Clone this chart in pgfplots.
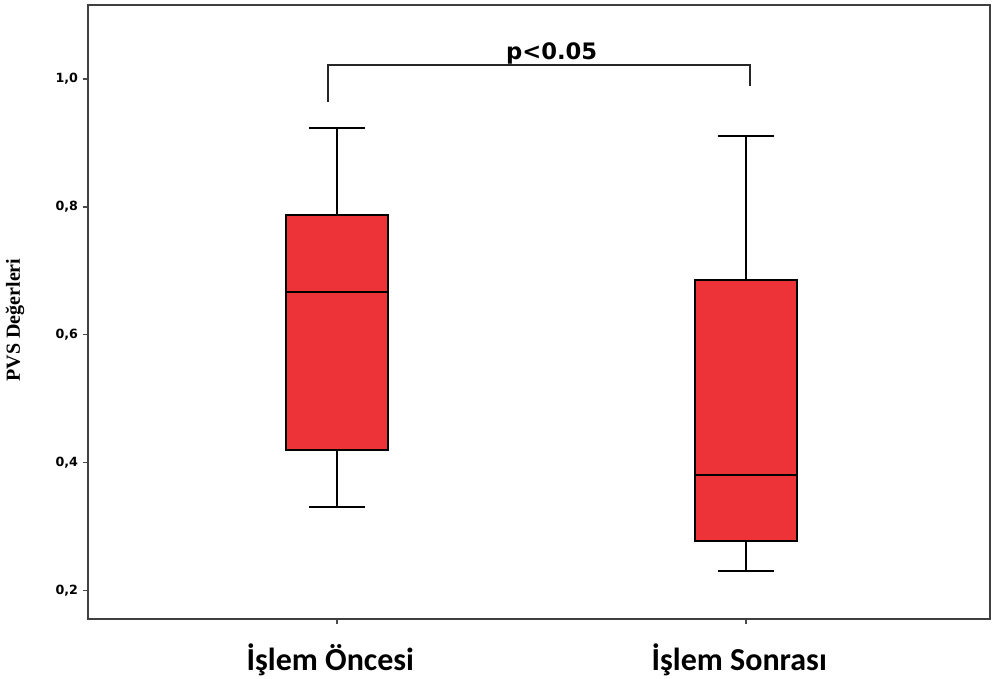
\documentclass[border=0pt]{standalone}
\usepackage{pgfplots}
\pgfplotsset{compat=1.18}
\usepgfplotslibrary{statistics}
\usepackage{fontspec}
\setmainfont{Liberation Serif}
\newfontfamily\calfont{Carlito}
\newfontfamily\verdfont{DejaVu Sans}
\definecolor{boxred}{HTML}{EE3338}
\begin{document}
\begin{tikzpicture}
\begin{axis}[
  name=ax,
  scale only axis,
  width=676.5pt, height=460.5pt,
  xmin=0.391, xmax=2.597,
  ymin=0.155, ymax=1.116,
  axis line style={line width=1.4pt, black!75},
  /pgf/number format/assume math mode=true,
  xtick={1,2},
  xticklabels={İşlem Öncesi, İşlem Sonrası},
  xtick pos=bottom, ytick pos=left,
  tick align=outside,
  major tick length=4pt,
  tick style={line width=1pt, black!70},
  x tick label style={font=\calfont\bfseries\fontsize{24}{27}\selectfont, yshift=-11pt, xshift=-5pt},
  ytick={0.2,0.4,0.6,0.8,1.0},
  y tick label style={font=\verdfont\bfseries\fontsize{9.5}{11}\selectfont},
  yticklabel={\pgfmathprintnumber[fixed, fixed zerofill, precision=1, use comma]{\tick}},
  ylabel={\bfseries PVS Değerleri},
  ylabel style={font=\fontsize{15}{17}\selectfont, at={(axis description cs:-0.081,0.487)}, anchor=center},
  boxplot/draw direction=y,
  boxplot/box extend=0.25,
  boxplot/whisker extend=0.135,
]
\addplot+[boxplot prepared={
    median=0.667, upper quartile=0.7875, lower quartile=0.42,
    upper whisker=0.923, lower whisker=0.33, draw position=1},
  draw=black, line width=1.4pt, fill=boxred, mark=none, solid]
  coordinates {};
\addplot+[boxplot prepared={
    median=0.381, upper quartile=0.686, lower quartile=0.277,
    upper whisker=0.911, lower whisker=0.23, draw position=2},
  draw=black, line width=1.4pt, fill=boxred, mark=none, solid]
  coordinates {};
\draw[line width=1pt, black!85] (axis cs:0.978,0.964) -- (axis cs:0.978,1.022) -- (axis cs:2.01,1.022) -- (axis cs:2.01,0.989);
\node[font=\verdfont\bfseries\fontsize{17}{19}\selectfont, anchor=base, inner sep=0pt, yshift=4pt] at (axis cs:1.525,1.022) {p<0.05};
\end{axis}
\pgfresetboundingbox
\useasboundingbox ([xshift=-66pt,yshift=-44.25pt]ax.south west) rectangle ([xshift=1.5pt,yshift=3.75pt]ax.north east);
\end{tikzpicture}
\end{document}
